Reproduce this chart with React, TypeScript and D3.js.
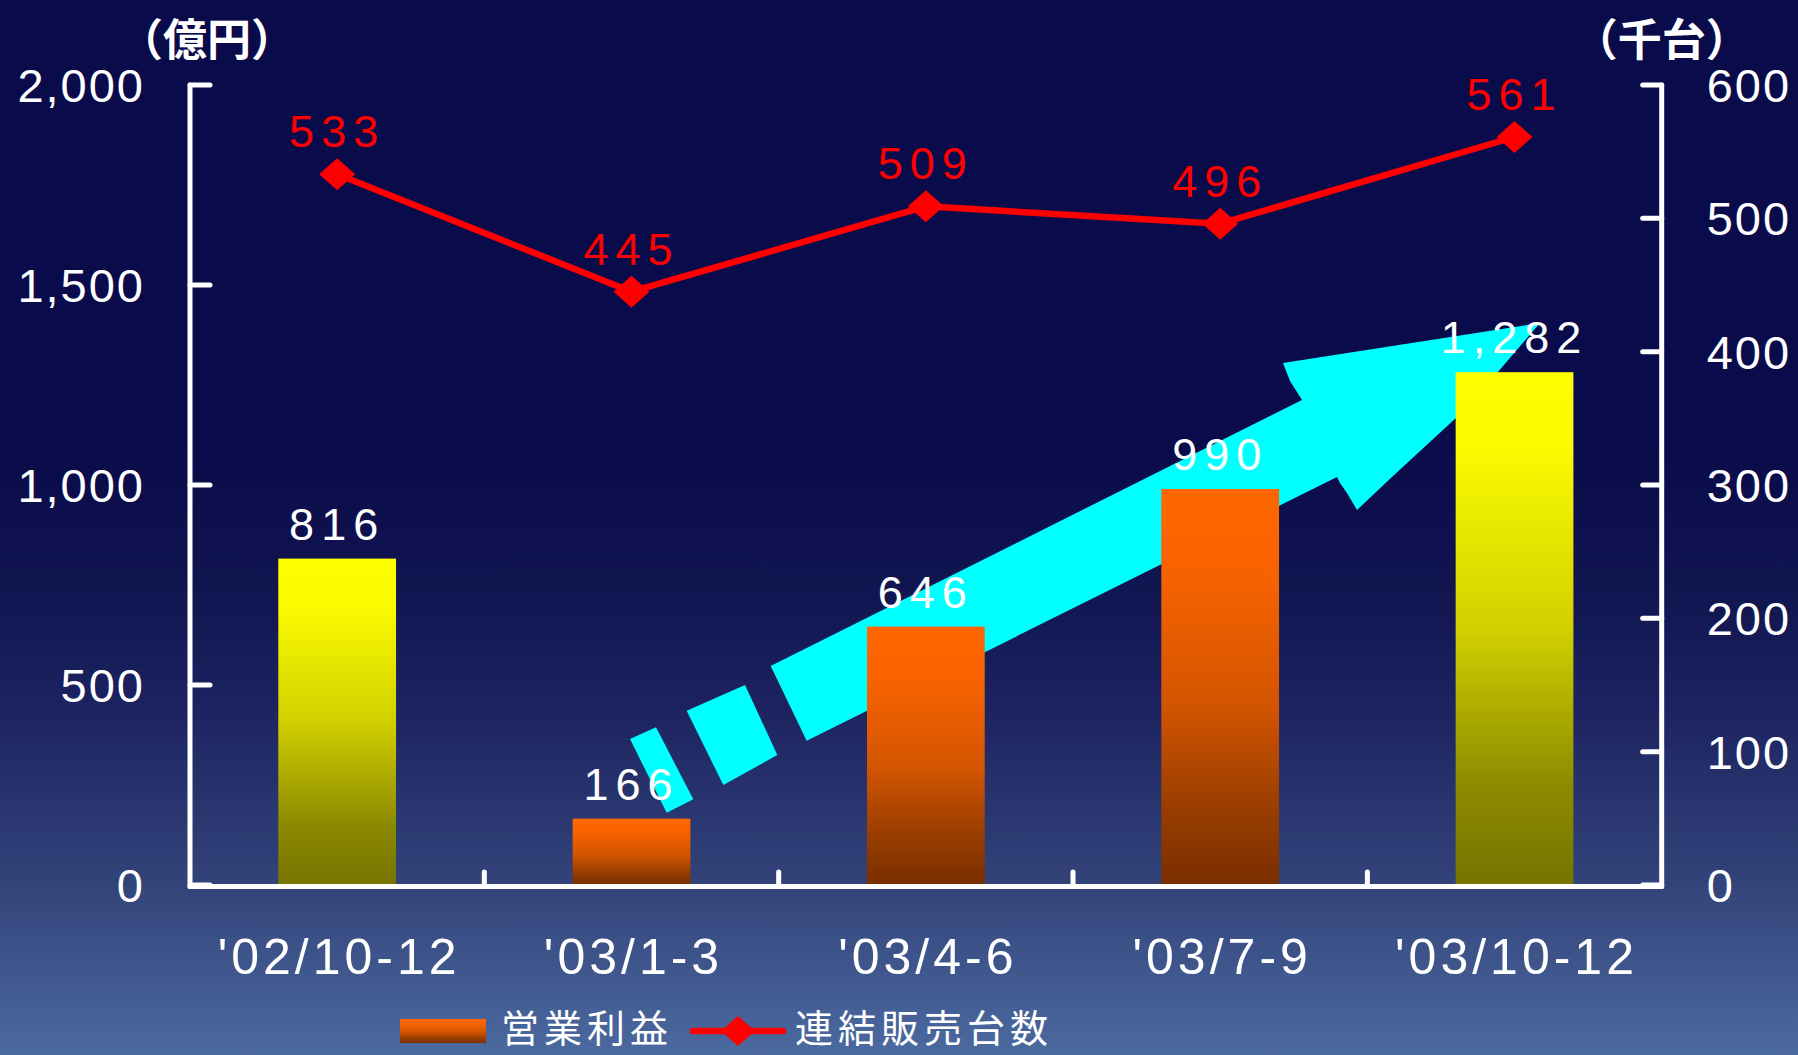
import React from "react";
import * as d3 from "d3";

const categories = ["'02/10-12", "'03/1-3", "'03/4-6", "'03/7-9", "'03/10-12"];
const operatingProfit = [816, 166, 646, 990, 1282];
const unitSales = [533, 445, 509, 496, 561];
const leftTicks = [0, 500, 1000, 1500, 2000];
const rightTicks = [0, 100, 200, 300, 400, 500, 600];
const leftUnit = "（億円）";
const rightUnit = "（千台）";
const legendBar = "営業利益";
const legendLine = "連結販売台数";

const W = 1798;
const H = 1055;

// decorative cyan arrow (pixel outline)
const arrowMain: [number, number][] = [
  [770.7, 666], [1302, 400], [1290, 381], [1283, 363], [1540, 323],
  [1497, 373], [1457, 417], [1393, 476], [1357, 510], [1347, 493],
  [1340, 483], [1337, 477], [806.7, 740.7],
];
const arrowDash1: [number, number][] = [[630, 739], [656, 727.3], [693.3, 799.3], [666.7, 812.7]];
const arrowDash2: [number, number][] = [[686.7, 710.7], [745, 685], [777.3, 755], [723.3, 785]];

const sans = "'Liberation Sans', Arial, sans-serif";
const cjk = "'Noto Sans CJK JP', 'Noto Sans CJK SC', sans-serif";

function diamond(cx: number, cy: number, hw: number, hh: number) {
  return `M${cx},${cy - hh}L${cx + hw},${cy}L${cx},${cy + hh}L${cx - hw},${cy}Z`;
}

export default function App() {
  const left = 190;
  const right = 1661.7;
  const top = 85;
  const base = 885;
  const x = d3.scaleBand<string>().domain(categories).range([left, right]).paddingInner(0.6).paddingOuter(0.3);
  const yL = d3.scaleLinear().domain([0, 2000]).range([base, top]);
  const yR = d3.scaleLinear().domain([0, 600]).range([base, top]);
  const fmt = d3.format(",");
  const cx = (c: string) => (x(c) as number) + x.bandwidth() / 2;
  const step = x.step();
  const n = categories.length;

  const linePath = d3.line<number>().x((_, i) => cx(categories[i])).y((d) => yR(d))(unitSales) || "";
  const poly = (pts: [number, number][]) => "M" + pts.map((p) => p.join(",")).join("L") + "Z";

  return (
    <svg width={W} height={H} style={{ position: "absolute", left: 0, top: 0, display: "block" }}>
      <defs>
        <linearGradient id="bg" x1="0" y1="0" x2="0" y2="1">
          <stop offset="0" stopColor="#0a0b4a" />
          <stop offset="0.42" stopColor="#0a0b4a" />
          <stop offset="0.55" stopColor="#10144f" />
          <stop offset="0.67" stopColor="#1c2360" />
          <stop offset="0.84" stopColor="#33447a" />
          <stop offset="1" stopColor="#4b6aa0" />
        </linearGradient>
        <linearGradient id="gYellow" x1="0" y1="0" x2="0" y2="1">
          <stop offset="0" stopColor="#ffff00" />
          <stop offset="0.15" stopColor="#fafa00" />
          <stop offset="0.5" stopColor="#d2d000" />
          <stop offset="0.8" stopColor="#8e8c00" />
          <stop offset="1" stopColor="#767400" />
        </linearGradient>
        <linearGradient id="gOrange" x1="0" y1="0" x2="0" y2="1">
          <stop offset="0" stopColor="#ff6600" />
          <stop offset="0.2" stopColor="#f86300" />
          <stop offset="0.55" stopColor="#d25400" />
          <stop offset="0.8" stopColor="#9a3e00" />
          <stop offset="1" stopColor="#7a2e00" />
        </linearGradient>
      </defs>
      <rect x={0} y={0} width={W} height={H} fill="url(#bg)" />

      {/* decorative arrow */}
      <g fill="#00ffff">
        <path d={poly(arrowMain)} />
        <path d={poly(arrowDash1)} />
        <path d={poly(arrowDash2)} />
      </g>

      {/* bars */}
      {operatingProfit.map((v, i) => (
        <rect
          key={"b" + i}
          x={x(categories[i])}
          y={yL(v)}
          width={x.bandwidth()}
          height={base - yL(v)}
          fill={i === 0 || i === n - 1 ? "url(#gYellow)" : "url(#gOrange)"}
        />
      ))}

      {/* axes */}
      <g stroke="#ffffff" strokeWidth={5} strokeLinecap="round" fill="none">
        <line x1={left} y1={top} x2={left} y2={base + 1.5} />
        <line x1={right} y1={top} x2={right} y2={base + 1.5} />
        <line x1={left} y1={base + 1.5} x2={right} y2={base + 1.5} />
        {leftTicks.map((t) => (
          <line key={"lt" + t} x1={left} x2={left + 20} y1={yL(t)} y2={yL(t)} />
        ))}
        {rightTicks.map((t) => (
          <line key={"rt" + t} x1={right - 19} x2={right} y1={yR(t)} y2={yR(t)} />
        ))}
        {d3.range(1, n).map((i) => (
          <line key={"bt" + i} x1={left + step * i} x2={left + step * i} y1={base + 1.5} y2={base - 13} />
        ))}
      </g>

      {/* tick labels */}
      <g fill="#ffffff" fontFamily={sans} fontSize={47} letterSpacing={2}>
        {leftTicks.map((t) => (
          <text key={"ll" + t} x={145} y={yL(t) + 17} textAnchor="end">{fmt(t)}</text>
        ))}
        {rightTicks.map((t) => (
          <text key={"rl" + t} x={right + 45} y={yR(t) + 17} textAnchor="start">{fmt(t)}</text>
        ))}
      </g>

      {/* category labels */}
      <g fill="#ffffff" fontFamily={sans} fontSize={50} letterSpacing={4}>
        {categories.map((c) => (
          <text key={"c" + c} x={cx(c) + 2} y={974} textAnchor="middle">{c}</text>
        ))}
      </g>

      {/* unit labels */}
      <g fill="#ffffff" fontFamily={cjk} fontSize={44} fontWeight={700}>
        <text x={207} y={37} textAnchor="middle" dominantBaseline="central">{leftUnit}</text>
        <text x={right} y={37} textAnchor="middle" dominantBaseline="central">{rightUnit}</text>
      </g>

      {/* line series */}
      <path d={linePath} fill="none" stroke="#ff0000" strokeWidth={6.5} strokeLinejoin="round" />
      {unitSales.map((v, i) => (
        <path key={"m" + i} d={diamond(cx(categories[i]), yR(v), 18, 16)} fill="#ff0000" />
      ))}

      {/* value labels */}
      <g fontFamily={sans} fontSize={45} letterSpacing={7}>
        {operatingProfit.map((v, i) => (
          <text key={"bl" + i} x={cx(categories[i])} y={yL(v) - 19} textAnchor="middle" fill="#ffffff">
            {fmt(v)}
          </text>
        ))}
        {unitSales.map((v, i) => (
          <text key={"ul" + i} x={cx(categories[i])} y={yR(v) - 27} textAnchor="middle" fill="#ff0000">
            {fmt(v)}
          </text>
        ))}
      </g>

      {/* legend */}
      <rect x={400} y={1019} width={86} height={24} fill="url(#gOrange)" />
      <text x={501} y={1042} fill="#ffffff" fontFamily={cjk} fontSize={38} letterSpacing={5}>
        {legendBar}
      </text>
      <line x1={693} x2={783} y1={1031} y2={1031} stroke="#ff0000" strokeWidth={6.5} strokeLinecap="round" />
      <path d={diamond(738, 1031, 17, 15)} fill="#ff0000" />
      <text x={795} y={1042} fill="#ffffff" fontFamily={cjk} fontSize={38} letterSpacing={5}>
        {legendLine}
      </text>
    </svg>
  );
}
